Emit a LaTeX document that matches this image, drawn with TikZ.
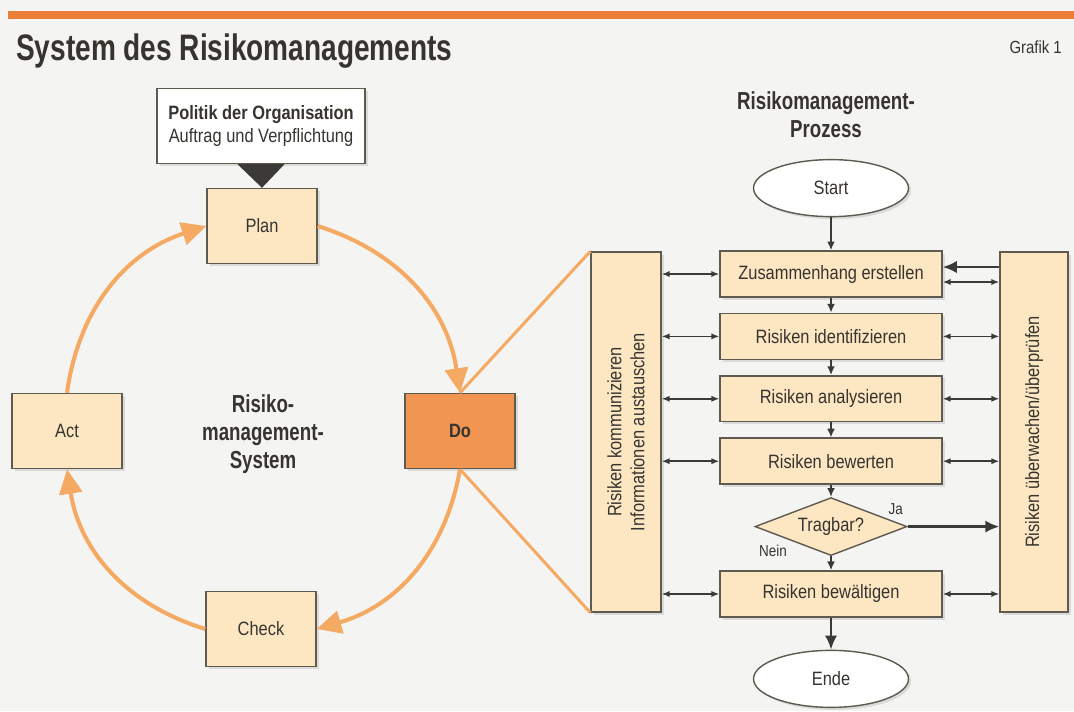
\documentclass[tikz,border=0pt]{standalone}
\usepackage{fontspec}
\setmainfont{Liberation Sans}[FakeStretch=0.85]
\newfontfamily\headfont{Liberation Sans}[FakeStretch=0.76]
\usetikzlibrary{positioning,shapes.geometric,arrows.meta,shadows}

\definecolor{bgcol}{RGB}{244,244,242}
\definecolor{peach}{RGB}{252,231,194}
\definecolor{dofill}{RGB}{240,150,82}
\definecolor{arrorange}{RGB}{245,170,100}
\definecolor{topline}{RGB}{234,126,56}
\definecolor{framegray}{RGB}{95,90,80}
\definecolor{linegray}{RGB}{60,58,55}
\definecolor{textgray}{RGB}{55,52,48}

\begin{document}
\begin{tikzpicture}[x=0.02cm,y=0.02cm,
  every node/.style={font=\fontsize{11}{13}\selectfont,text=textgray},
  shade box/.style={drop shadow={shadow xshift=1.5pt,shadow yshift=-1.5pt,opacity=0.22}},
  pdca box/.style={draw=framegray,line width=0.8pt,fill=peach,minimum width=2.2cm,minimum height=1.5cm,shade box},
  step box/.style={draw=framegray,line width=0.8pt,fill=peach,minimum width=4.44cm,minimum height=0.92cm,shade box},
  side box/.style={draw=framegray,line width=0.8pt,fill=peach,rotate=90,minimum width=7.2cm,minimum height=1.4cm,align=center,shade box},
  term/.style={ellipse,draw=framegray,line width=0.8pt,fill=white,minimum width=3.1cm,minimum height=1.14cm,shade box},
  decision/.style={diamond,draw=framegray,line width=0.8pt,fill=peach,aspect=2.6,inner sep=1pt,minimum width=3.04cm,minimum height=1.16cm},
  head/.style={font=\headfont\bfseries\fontsize{14}{16}\selectfont,align=center},
  small label/.style={font=\fontsize{9}{10}\selectfont},
  cycle arrow/.style={draw=arrorange,line width=2.3pt,-{Triangle[length=14pt,width=13pt]}},
  link/.style={{Latex[length=4.5pt,width=3.5pt]}-{Latex[length=4.5pt,width=3.5pt]},line width=0.8pt,draw=linegray},
  flow/.style={-{Latex[length=5pt,width=4.5pt]},line width=1pt,draw=linegray},
  strong/.style={-{Latex[length=8pt,width=7pt]},line width=1.4pt,draw=linegray},
  ]
  \useasboundingbox (0,0) rectangle (1074,-711);
  \fill[bgcol] (0,0) rectangle (1074,-711);
  \draw[topline,line width=5pt] (8,-15) -- (1074,-15);

  % titles
  \node[anchor=base west,font=\headfont\bfseries\fontsize{21}{24}\selectfont] (title) at (10,-60) {System des Risikomanagements};
  \node[anchor=base east,font=\fontsize{10}{12}\selectfont] (grafik) at (1068,-53) {Grafik 1};

  % PDCA cycle
  \node[draw=framegray,line width=0.8pt,fill=white,minimum width=4.16cm,minimum height=1.5cm,align=center,shade box] (polit) at (261,-126)
    {\textbf{Politik der Organisation}\\Auftrag und Verpflichtung};
  \node[pdca box] (plan) at (262,-226) {Plan};
  \node[pdca box] (act) at (67,-431) {Act};
  \node[pdca box,fill=dofill] (do) at (460,-431) {\textbf{Do}};
  \node[pdca box] (check) at (261,-629) {Check};
  \node[head] (rms) at (263,-434) {Risiko-\\management-\\System};
  \fill[linegray] ([xshift=-0.47cm]polit.south) -- ([xshift=0.47cm]polit.south) -- (plan.north) -- cycle;

  \draw[cycle arrow] (plan.east) to[bend left=32] (do.north);
  \draw[cycle arrow] (do.south) to[bend left=32] (check.east);
  \draw[cycle arrow] (check.west) to[bend left=32] (act.south);
  \draw[cycle arrow] (act.north) to[bend left=32] (plan.west);

  % process
  \node[head] (proc) at (826,-115) {Risikomanagement-\\Prozess};
  \node[step box] (zus) at (831,-274) {Zusammenhang erstellen};
  \node[term,above=0.66cm of zus] (start) {Start};
  \node[step box,below=0.3cm of zus] (ident) {Risiken identifizieren};
  \node[step box,below=0.3cm of ident] (anal) {Risiken analysieren};
  \node[step box,below=0.3cm of anal] (bew) {Risiken bewerten};
  \node[decision,below=0.24cm of bew] (trag) {Tragbar?};
  \node[step box,below=0.28cm of trag] (bewae) {Risiken bewältigen};
  \node[term,below=0.64cm of bewae] (ende) {Ende};
  \node[small label] (ja) at ([xshift=-0.24cm,yshift=0.34cm]trag.east) {Ja};
  \node[small label] (nein) at ([xshift=-1.16cm,yshift=0.1cm]trag.south) {Nein};

  \node[side box] (kom) at (626,-432) {Risiken kommunizieren\\Informationen austauschen};
  \node[side box,minimum height=1.36cm] (ueb) at (1034,-432) {Risiken überwachen/überprüfen};

  \draw[arrorange,line width=1.7pt] (do.north) -- (kom.north east);
  \draw[arrorange,line width=1.7pt] (do.south) -- (kom.north west);

  \draw[flow] (start) -- (zus);
  \draw[flow] (zus) -- (ident);
  \draw[flow] (ident) -- (anal);
  \draw[flow] (anal) -- (bew);
  \draw[flow] (bew) -- (trag);
  \draw[flow] (trag) -- (bewae);
  \draw[strong] (bewae) -- (ende);
  \draw[strong] (trag.east) -- (ueb.north |- trag.east);

  \foreach \s in {zus,ident,anal,bew,bewae}
    \draw[link] (kom.south |- \s.west) -- (\s.west);
  \foreach \s in {ident,anal,bew,bewae}
    \draw[link] (\s.east) -- (ueb.north |- \s.east);
  \coordinate (zusA) at ([yshift=0.14cm]zus.east);
  \coordinate (zusB) at ([yshift=-0.16cm]zus.east);
  \draw[strong] (ueb.north |- zusA) -- (zusA);
  \draw[link] (zusB) -- (ueb.north |- zusB);
\end{tikzpicture}
\end{document}
